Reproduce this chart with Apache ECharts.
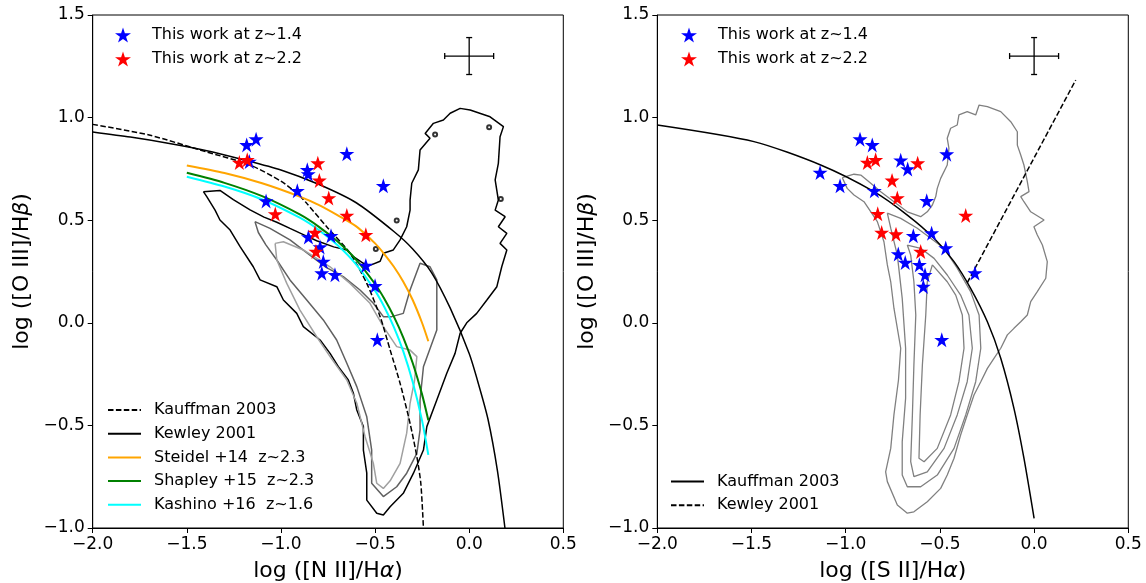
<!DOCTYPE html>
<html><head><meta charset="utf-8">
<script src="https://cdn.jsdelivr.net/npm/echarts@6/dist/echarts.min.js"></script>
<style>html,body{margin:0;padding:0;background:#fff}#c{width:1146px;height:583px}</style>
</head><body><div id="c"></div>
<script>
// ---------- axis ticks ----------
const xTicks = [-2.0, -1.5, -1.0, -0.5, 0.0, 0.5];
const yTicks = [-1.0, -0.5, 0.0, 0.5, 1.0, 1.5];

// ---------- legend labels ----------
const lblBlue = 'This work at z~1.4';
const lblRed = 'This work at z~2.2';
const lblKauffL = 'Kauffman 2003';
const lblKewL = 'Kewley 2001';
const lblSteidel = 'Steidel +14  z~2.3';
const lblShapley = 'Shapley +15  z~2.3';
const lblKashino = 'Kashino +16  z~1.6';
const lblKauffR = 'Kauffman 2003 ';
const lblKewR = 'Kewley 2001 ';

// ---------- left panel: [N II]/Ha vs [O III]/Hb ----------
const blueN2 = [[-1.132,0.895],[-1.182,0.867],[-1.168,0.786],[-0.650,0.824],[-0.860,0.746],[-0.855,0.725],[-0.456,0.668],[-0.913,0.643],[-1.079,0.594],[-0.854,0.418],[-0.734,0.424],[-0.792,0.369],[-0.775,0.299],[-0.783,0.242],[-0.713,0.234],[-0.549,0.279],[-0.500,0.180],[-0.488,-0.083]];
const redN2 = [[-1.221,0.781],[-1.179,0.794],[-0.804,0.778],[-0.796,0.694],[-0.746,0.608],[-0.650,0.523],[-1.030,0.530],[-0.549,0.429],[-0.819,0.440],[-0.814,0.347]];

const kauffN2 = [[-2.0,0.967],[-1.7,0.915],[-1.4,0.834],[-1.164,0.769],[-1.0,0.69],[-0.913,0.63],[-0.863,0.582],[-0.757,0.468],[-0.633,0.339],[-0.544,0.192],[-0.473,0.03],[-0.42,-0.132],[-0.367,-0.295],[-0.314,-0.49],[-0.278,-0.652],[-0.257,-0.782],[-0.243,-1.0]];
const kewleyN2 = [[-2.0,0.93],[-1.8,0.905],[-1.6,0.875],[-1.4,0.84],[-1.2,0.795],[-1.0,0.745],[-0.8,0.675],[-0.6,0.585],[-0.4,0.445],[-0.3,0.36],[-0.2,0.245],[-0.1,0.07],[0.0,-0.15],[0.05,-0.30],[0.1,-0.47],[0.15,-0.72],[0.19,-1.0]];
const steidel = [[-1.5,0.767],[-1.3,0.73],[-1.1,0.68],[-0.9,0.615],[-0.8,0.575],[-0.7,0.525],[-0.6,0.47],[-0.5,0.387],[-0.45,0.334],[-0.4,0.273],[-0.35,0.2],[-0.3,0.111],[-0.25,-0.001],[-0.217,-0.09]];
const shapley = [[-1.5,0.731],[-1.3,0.682],[-1.1,0.617],[-0.9,0.528],[-0.8,0.469],[-0.7,0.397],[-0.6,0.307],[-0.5,0.189],[-0.45,0.116],[-0.4,0.03],[-0.35,-0.072],[-0.3,-0.196],[-0.25,-0.35],[-0.217,-0.475]];
const kashino = [[-1.5,0.712],[-1.3,0.664],[-1.1,0.601],[-0.9,0.512],[-0.8,0.453],[-0.7,0.379],[-0.6,0.284],[-0.5,0.157],[-0.45,0.076],[-0.4,-0.021],[-0.35,-0.139],[-0.3,-0.288],[-0.25,-0.478],[-0.217,-0.644]];

const sdssN2outer = [[-1.412,0.639],[-1.394,0.615],[-1.350,0.549],[-1.324,0.501],[-1.270,0.452],[-1.217,0.371],[-1.147,0.273],[-1.111,0.209],[-1.022,0.176],[-0.987,0.111],[-0.916,0.046],[-0.881,-0.019],[-0.792,-0.084],[-0.739,-0.149],[-0.695,-0.214],[-0.642,-0.279],[-0.615,-0.344],[-0.597,-0.425],[-0.562,-0.506],[-0.562,-0.620],[-0.544,-0.733],[-0.544,-0.864],[-0.491,-0.928],[-0.456,-0.937],[-0.420,-0.896],[-0.350,-0.831],[-0.296,-0.733],[-0.243,-0.620],[-0.225,-0.506],[-0.172,-0.376],[-0.119,-0.246],[-0.075,-0.149],[-0.048,-0.051],[-0.013,0.0],[0.040,0.046],[0.094,0.111],[0.147,0.176],[0.173,0.273],[0.200,0.355],[0.164,0.387],[0.200,0.436],[0.155,0.468],[0.191,0.517],[0.138,0.549],[0.155,0.598],[0.138,0.696],[0.155,0.777],[0.164,0.907],[0.182,0.956],[0.111,1.004],[0.005,1.037],[-0.048,1.045],[-0.101,1.021],[-0.137,0.988],[-0.190,0.972],[-0.234,0.923],[-0.208,0.899],[-0.261,0.842],[-0.270,0.745],[-0.305,0.680],[-0.314,0.598],[-0.314,0.549],[-0.332,0.468],[-0.367,0.404],[-0.403,0.355],[-0.456,0.339],[-0.473,0.30],[-0.527,0.28],[-0.562,0.29],[-0.615,0.322],[-0.650,0.355],[-0.720,0.370],[-0.810,0.400],[-0.881,0.430],[-0.952,0.460],[-1.022,0.490],[-1.090,0.515],[-1.164,0.550],[-1.253,0.600],[-1.324,0.645],[-1.412,0.639]];
const sdssN2mid = [[-1.138,0.493],[-1.058,0.460],[-0.952,0.404],[-0.86,0.34],[-0.76,0.27],[-0.669,0.225],[-0.580,0.160],[-0.509,0.095],[-0.456,0.030],[-0.411,0.030],[-0.350,0.046],[-0.314,0.160],[-0.261,0.290],[-0.208,0.273],[-0.172,0.209],[-0.172,-0.035],[-0.243,-0.214],[-0.261,-0.376],[-0.261,-0.522],[-0.278,-0.636],[-0.332,-0.733],[-0.385,-0.799],[-0.456,-0.847],[-0.518,-0.782],[-0.518,-0.620],[-0.544,-0.458],[-0.597,-0.311],[-0.650,-0.197],[-0.704,-0.084],[-0.775,0.014],[-0.863,0.111],[-0.952,0.209],[-1.022,0.306],[-1.08,0.38],[-1.12,0.44],[-1.138,0.493]];
const sdssN2inner = [[-1.031,0.387],[-0.987,0.395],[-0.881,0.355],[-0.739,0.273],[-0.633,0.192],[-0.527,0.095],[-0.456,-0.019],[-0.385,-0.116],[-0.314,-0.133],[-0.278,-0.165],[-0.29,-0.28],[-0.314,-0.392],[-0.332,-0.538],[-0.367,-0.685],[-0.420,-0.77],[-0.456,-0.807],[-0.491,-0.782],[-0.509,-0.685],[-0.553,-0.555],[-0.597,-0.392],[-0.650,-0.279],[-0.739,-0.165],[-0.810,-0.068],[-0.899,0.062],[-0.969,0.192],[-1.022,0.306],[-1.031,0.387]];
const sdssN2blobs = [[-0.181,0.918],[0.106,0.953],[0.168,0.603],[-0.385,0.498],[-0.496,0.36]];

// ---------- right panel: [S II]/Ha vs [O III]/Hb ----------
const blueS2 = [[-0.924,0.895],[-0.859,0.867],[-0.708,0.792],[-0.671,0.749],[-0.464,0.822],[-1.136,0.732],[-1.030,0.668],[-0.848,0.643],[-0.570,0.595],[-0.544,0.437],[-0.469,0.364],[-0.641,0.424],[-0.721,0.335],[-0.684,0.294],[-0.609,0.283],[-0.579,0.234],[-0.588,0.177],[-0.314,0.243],[-0.490,-0.083]];
const redS2 = [[-0.885,0.781],[-0.841,0.794],[-0.618,0.778],[-0.754,0.694],[-0.726,0.608],[-0.830,0.531],[-0.809,0.440],[-0.733,0.432],[-0.602,0.347],[-0.363,0.523]];

const kauffS2 = [[-2.0,0.964],[-1.487,0.883],[-1.133,0.769],[-0.850,0.639],[-0.673,0.525],[-0.531,0.412],[-0.425,0.298],[-0.337,0.168],[-0.248,0.005],[-0.177,-0.173],[-0.107,-0.417],[-0.054,-0.660],[0.0,-0.953]];
const kewleyS2 = [[-0.355,0.195],[0.221,1.183]];

const sdssS2outer = [[-1.018,0.707],[-0.956,0.724],[-0.920,0.720],[-0.867,0.680],[-0.814,0.639],[-0.744,0.590],[-0.673,0.541],[-0.602,0.517],[-0.567,0.541],[-0.540,0.574],[-0.522,0.615],[-0.514,0.655],[-0.496,0.704],[-0.461,0.769],[-0.452,0.850],[-0.461,0.899],[-0.443,0.948],[-0.408,0.964],[-0.399,1.013],[-0.355,1.029],[-0.310,1.013],[-0.292,1.061],[-0.248,1.053],[-0.177,1.029],[-0.124,0.980],[-0.089,0.931],[-0.089,0.866],[-0.071,0.818],[-0.054,0.769],[-0.036,0.688],[-0.027,0.639],[-0.071,0.615],[-0.054,0.590],[-0.018,0.541],[0.053,0.501],[-0.001,0.468],[0.017,0.428],[0.044,0.379],[0.070,0.298],[0.062,0.217],[0.017,0.152],[-0.018,0.103],[-0.036,0.038],[-0.071,0.005],[-0.107,-0.027],[-0.142,-0.059],[-0.177,-0.124],[-0.213,-0.173],[-0.248,-0.222],[-0.283,-0.287],[-0.319,-0.352],[-0.355,-0.449],[-0.390,-0.547],[-0.425,-0.660],[-0.461,-0.742],[-0.496,-0.807],[-0.567,-0.872],[-0.638,-0.921],[-0.673,-0.928],[-0.726,-0.888],[-0.779,-0.774],[-0.788,-0.726],[-0.761,-0.612],[-0.744,-0.449],[-0.72,-0.28],[-0.708,-0.124],[-0.744,0.071],[-0.761,0.200],[-0.779,0.282],[-0.797,0.395],[-0.832,0.493],[-0.903,0.590],[-0.956,0.623],[-0.992,0.655],[-1.018,0.707]];
const sdssS2c2 = [[-0.779,0.534],[-0.708,0.509],[-0.620,0.461],[-0.549,0.412],[-0.478,0.363],[-0.408,0.266],[-0.337,0.152],[-0.292,0.038],[-0.283,-0.124],[-0.310,-0.287],[-0.363,-0.449],[-0.425,-0.612],[-0.514,-0.742],[-0.602,-0.799],[-0.673,-0.799],[-0.700,-0.742],[-0.700,-0.579],[-0.682,-0.368],[-0.682,-0.124],[-0.700,0.119],[-0.726,0.330],[-0.761,0.461],[-0.779,0.534]];
const sdssS2c3 = [[-0.673,0.379],[-0.602,0.363],[-0.531,0.314],[-0.461,0.233],[-0.390,0.135],[-0.346,0.038],[-0.328,-0.124],[-0.355,-0.287],[-0.408,-0.449],[-0.478,-0.612],[-0.567,-0.726],[-0.638,-0.750],[-0.655,-0.677],[-0.646,-0.449],[-0.638,-0.206],[-0.628,0.038],[-0.638,0.200],[-0.655,0.330],[-0.673,0.379]];
const sdssS2c4 = [[-0.540,0.282],[-0.461,0.200],[-0.416,0.135],[-0.381,0.038],[-0.372,-0.124],[-0.399,-0.287],[-0.443,-0.449],[-0.514,-0.612],[-0.584,-0.677],[-0.611,-0.660],[-0.605,-0.449],[-0.593,-0.206],[-0.575,0.038],[-0.567,0.200],[-0.540,0.282]];

// ---------- typical error bar ----------
const errBar = [[0.0, 1.30, 0.13, 0.09]];

// ================= chart =================
const FONT = 'DejaVu Sans';
const STAR = 'path://M50,0 L61.2,34.5 L97.6,34.5 L68.2,55.9 L79.4,90.5 L50,69.1 L20.6,90.5 L31.8,55.9 L2.4,34.5 L38.8,34.5 Z';
const fmt = v => (v < 0 ? '\u2212' : '') + Math.abs(v).toFixed(1);
const DASH = [5.5, 2.4];

function xAxis(gi, name) {
  return {
    type: 'value', gridIndex: gi, min: xTicks[0], max: xTicks[xTicks.length - 1], interval: 0.5,
    name: name, nameLocation: 'middle', nameGap: 32,
    nameTextStyle: { fontFamily: FONT, fontSize: 22, color: '#000', rich: { i: { fontFamily: FONT, fontSize: 22, fontStyle: 'italic', color: '#000' } } },
    axisLine: { show: true, onZero: false, lineStyle: { color: '#000', width: 1 } },
    axisTick: { show: true, inside: false, length: 5, lineStyle: { color: '#000' } },
    axisLabel: { fontFamily: FONT, fontSize: 17, color: '#000', margin: 8, formatter: fmt },
    splitLine: { show: false }
  };
}
function yAxis(gi) {
  return {
    type: 'value', gridIndex: gi, min: yTicks[0], max: yTicks[yTicks.length - 1], interval: 0.5,
    name: 'log ([O III]/H{i|\u03b2})', nameLocation: 'middle', nameGap: 59,
    nameTextStyle: { fontFamily: FONT, fontSize: 22, color: '#000', rich: { i: { fontFamily: FONT, fontSize: 22, fontStyle: 'italic', color: '#000' } } },
    axisLine: { show: true, onZero: false, lineStyle: { color: '#000', width: 1 } },
    axisTick: { show: true, inside: false, length: 5, lineStyle: { color: '#000' } },
    axisLabel: { fontFamily: FONT, fontSize: 17, color: '#000', margin: 8, formatter: fmt },
    splitLine: { show: false }
  };
}
function line(gi, name, data, color, width, type, z) {
  return {
    type: 'line', name: name, xAxisIndex: gi, yAxisIndex: gi, data: data,
    symbol: 'none', showSymbol: false, smooth: 0.25, silent: true, z: z || 3,
    lineStyle: { color: color, width: width, type: type || 'solid' },
    itemStyle: { color: color }
  };
}
function contour(gi, data, color, width) {
  return {
    type: 'line', name: '_c', xAxisIndex: gi, yAxisIndex: gi, data: data,
    symbol: 'none', showSymbol: false, smooth: false, silent: true, z: 1,
    lineStyle: { color: color, width: width }
  };
}
function stars(gi, name, data, color) {
  return {
    type: 'scatter', name: name, xAxisIndex: gi, yAxisIndex: gi, data: data,
    symbol: STAR, symbolSize: 15, z: 6, itemStyle: { color: color, opacity: 1 }
  };
}
function errSeries(gi) {
  return {
    type: 'custom', name: '_err', xAxisIndex: gi, yAxisIndex: gi, data: errBar, z: 5, silent: true,
    encode: { x: 0, y: 1 },
    renderItem: function (params, api) {
      const x = api.value(0), y = api.value(1), ex = api.value(2), ey = api.value(3);
      const l = api.coord([x - ex, y]), r = api.coord([x + ex, y]);
      const t = api.coord([x, y + ey]), b = api.coord([x, y - ey]);
      const c = 3, st = { stroke: '#000', lineWidth: 1.3 };
      const ln = (x1, y1, x2, y2) => ({ type: 'line', shape: { x1, y1, x2, y2 }, style: st });
      return { type: 'group', children: [
        ln(l[0], l[1], r[0], r[1]), ln(t[0], t[1], b[0], b[1]),
        ln(l[0], l[1] - c, l[0], l[1] + c), ln(r[0], r[1] - c, r[0], r[1] + c),
        ln(t[0] - c, t[1], t[0] + c, t[1]), ln(b[0] - c, b[1], b[0] + c, b[1])
      ] };
    }
  };
}
function legendStars(left) {
  return {
    left: left, top: 27, orient: 'vertical', padding: 0, itemGap: 8, selectedMode: false,
    itemWidth: 16, itemHeight: 16, icon: STAR,
    textStyle: { fontFamily: FONT, fontSize: 16, color: '#000', lineHeight: 16, padding: [0, 0, 0, 16] },
    data: [lblBlue, lblRed]
  };
}
function legendLines(left, top, names) {
  return {
    left: left, top: top, orient: 'vertical', padding: 0, itemGap: 7.7, selectedMode: false,
    itemWidth: 33, itemHeight: 16,
    itemStyle: { opacity: 0 },
    textStyle: { fontFamily: FONT, fontSize: 16, color: '#000', lineHeight: 16, padding: [0, 0, 0, 8] },
    data: names
  };
}

const chart = echarts.init(document.getElementById('c'), null, { renderer: 'canvas' });
chart.setOption({
  animation: false,
  backgroundColor: '#fff',
  grid: [
    { left: 92.7, top: 15, width: 470.6, height: 513, outerBoundsMode: 'none', containLabel: false, show: true, borderColor: '#000', borderWidth: 1, backgroundColor: 'transparent' },
    { left: 657.3, top: 15, width: 471, height: 513, outerBoundsMode: 'none', containLabel: false, show: true, borderColor: '#000', borderWidth: 1, backgroundColor: 'transparent' }
  ],
  xAxis: [xAxis(0, 'log ([N II]/H{i|\u03b1})'), xAxis(1, 'log ([S II]/H{i|\u03b1})')],
  yAxis: [yAxis(0), yAxis(1)],
  legend: [
    legendStars(115),
    legendStars(681),
    legendLines(107, 402, [lblKauffL, lblKewL, lblSteidel, lblShapley, lblKashino]),
    legendLines(670, 473.5, [lblKauffR, lblKewR])
  ],
  series: [
    contour(0, sdssN2outer, '#000', 1.5),
    contour(0, sdssN2mid, '#606060', 1.5),
    contour(0, sdssN2inner, '#a0a0a0', 1.5),
    { type: 'scatter', name: '_b', xAxisIndex: 0, yAxisIndex: 0, data: sdssN2blobs, symbol: 'emptyCircle', symbolSize: 4, silent: true, z: 1, itemStyle: { color: '#000', borderColor: '#000', borderWidth: 1.2 } },
    line(0, lblKauffL, kauffN2, '#000', 1.5, DASH),
    line(0, lblKewL, kewleyN2, '#000', 1.5),
    line(0, lblSteidel, steidel, '#FFA500', 2),
    line(0, lblShapley, shapley, '#008000', 2),
    line(0, lblKashino, kashino, '#00FFFF', 2),
    errSeries(0),
    stars(0, lblBlue, blueN2, '#0000FF'),
    stars(0, lblRed, redN2, '#FF0000'),

    contour(1, sdssS2outer, '#808080', 1.3),
    contour(1, sdssS2c2, '#808080', 1.3),
    contour(1, sdssS2c3, '#808080', 1.3),
    contour(1, sdssS2c4, '#808080', 1.3),
    line(1, lblKauffR, kauffS2, '#000', 1.5),
    { type: 'line', name: lblKewR, xAxisIndex: 1, yAxisIndex: 1, data: kewleyS2, symbol: 'none', showSymbol: false, silent: true, z: 3, lineStyle: { color: '#000', width: 1.5, type: DASH }, itemStyle: { color: '#000' } },
    errSeries(1),
    stars(1, lblBlue, blueS2, '#0000FF'),
    stars(1, lblRed, redS2, '#FF0000')
  ]
});
</script>
</body></html>
